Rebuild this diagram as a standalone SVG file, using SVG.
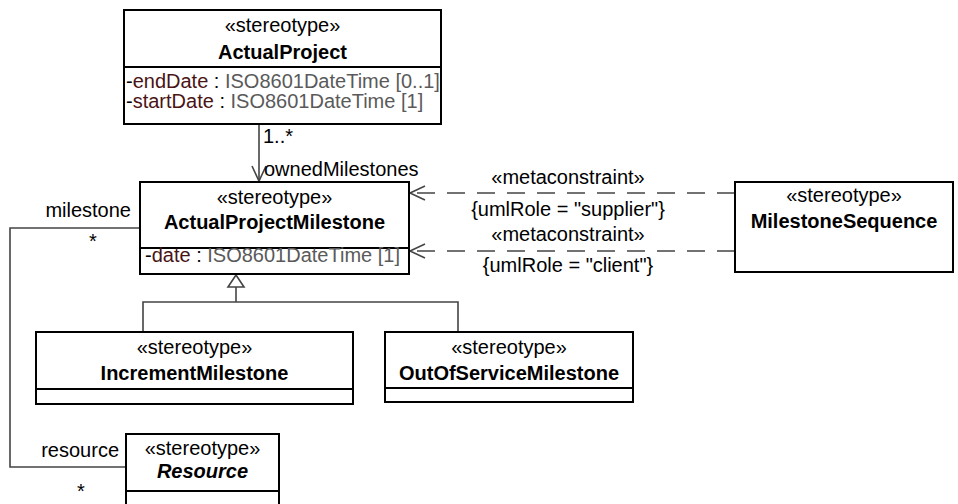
<svg xmlns="http://www.w3.org/2000/svg" width="958" height="504" viewBox="0 0 958 504">
<style>
text{font-family:"Liberation Sans",Arial,sans-serif;font-size:20px;fill:#000}
.c{text-anchor:middle}
.b{font-weight:bold}
.bi{font-weight:bold;font-style:italic}
.r{text-anchor:end}
.n{fill:#4a1414}
.t{fill:#5a5a5a}
.box{fill:#fff;stroke:#000;stroke-width:2}
.ln{fill:none;stroke:#444;stroke-width:1.6}
.dash{fill:none;stroke:#444;stroke-width:1.6;stroke-dasharray:18 12}
</style>
<defs>
<marker id="open" markerWidth="20" markerHeight="20" refX="16" refY="8" orient="auto" markerUnits="userSpaceOnUse">
<path d="M1,1 L16,8 L1,15" fill="none" stroke="#444" stroke-width="1.6"/>
</marker>
</defs>
<rect width="958" height="504" fill="#fff"/>
<g id="connectors">
<line class="ln" x1="259" y1="124" x2="259" y2="181" marker-end="url(#open)"/>
<text x="263" y="143">1..*</text>
<text x="264" y="176">ownedMilestones</text>
<line class="dash" x1="735" y1="193" x2="410" y2="193" marker-end="url(#open)"/>
<line class="dash" x1="735" y1="251" x2="410" y2="251" marker-end="url(#open)"/>
<text class="c" x="568" y="184">«metaconstraint»</text>
<text class="c" x="568" y="216">{umlRole = "supplier"}</text>
<text class="c" x="568" y="241">«metaconstraint»</text>
<text class="c" x="568" y="272">{umlRole = "client"}</text>
<polyline class="ln" points="140,228 10,228 10,467 126,467"/>
<text class="r" x="131" y="217">milestone</text>
<text class="c" x="93" y="248">*</text>
<text class="r" x="119" y="457">resource</text>
<text class="c" x="81" y="498">*</text>
<path class="ln" d="M236,275 L244,287 L228,287 Z" fill="#fff"/>
<polyline class="ln" points="236,287 236,302"/>
<polyline class="ln" points="143,332 143,302 458,302 458,332"/>
</g>
<g id="ActualProject">
<rect class="box" x="124" y="10" width="317" height="114"/>
<line class="box" x1="124" y1="67" x2="441" y2="67"/>
<text class="c" x="282.5" y="32">«stereotype»</text>
<text class="c b" x="282.5" y="59">ActualProject</text>
<text x="126" y="88">-<tspan class="n">endDate</tspan> : <tspan class="t">ISO8601DateTime [0..1]</tspan></text>
<text x="126" y="108">-<tspan class="n">startDate</tspan> : <tspan class="t">ISO8601DateTime [1]</tspan></text>
</g>
<g id="ActualProjectMilestone">
<rect class="box" x="140" y="182" width="269" height="92"/>
<line class="box" x1="140" y1="248" x2="409" y2="248"/>
<text class="c" x="274.5" y="204">«stereotype»</text>
<text class="c b" x="274.5" y="229">ActualProjectMilestone</text>
<text x="145" y="262">-<tspan class="n">date</tspan> : <tspan class="t">ISO8601DateTime [1]</tspan></text>
</g>
<g id="MilestoneSequence">
<rect class="box" x="735" y="182" width="218" height="90"/>
<text class="c" x="844" y="202">«stereotype»</text>
<text class="c b" x="844" y="228">MilestoneSequence</text>
</g>
<g id="IncrementMilestone">
<rect class="box" x="36" y="332" width="317" height="72"/>
<line class="box" x1="36" y1="389" x2="353" y2="389"/>
<text class="c" x="194.5" y="354">«stereotype»</text>
<text class="c b" x="194.5" y="380">IncrementMilestone</text>
</g>
<g id="OutOfServiceMilestone">
<rect class="box" x="385" y="332" width="248" height="70"/>
<line class="box" x1="385" y1="388" x2="633" y2="388"/>
<text class="c" x="509" y="354">«stereotype»</text>
<text class="c b" x="509" y="380">OutOfServiceMilestone</text>
</g>
<g id="Resource">
<rect class="box" x="126" y="434" width="153" height="80"/>
<line class="box" x1="126" y1="491" x2="279" y2="491"/>
<text class="c" x="202.5" y="455">«stereotype»</text>
<text class="c bi" x="202.5" y="478">Resource</text>
</g>
</svg>
